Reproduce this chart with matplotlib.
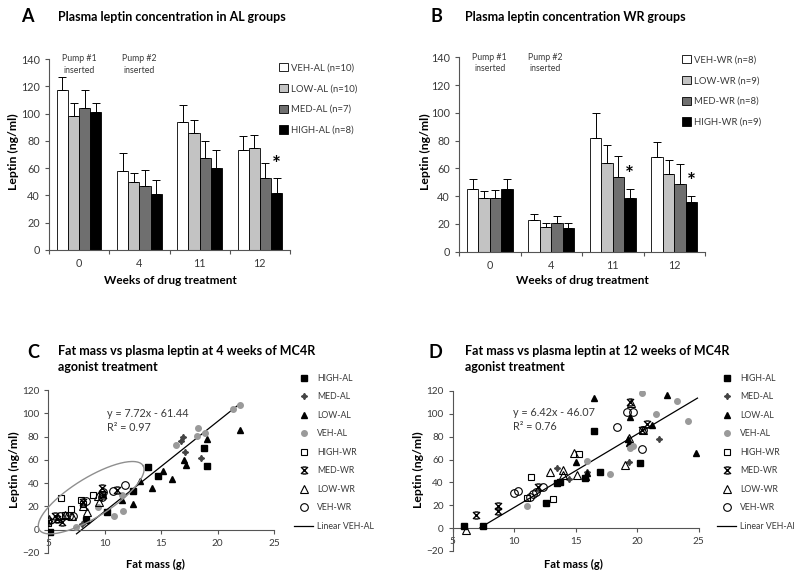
import numpy as np
import matplotlib.pyplot as plt
from matplotlib.patches import Patch
from matplotlib.lines import Line2D
from matplotlib.path import Path

plt.rcParams['font.family'] = ['Lato', 'DejaVu Sans']

# ---- bar data (panels A and B) ----
weeks = ['0', '4', '11', '12']
bar_colors = ['white', '#c3c3c3', '#6f6f6f', 'black']

al_labels = ['VEH-AL (n=10)', 'LOW-AL (n=10)', 'MED-AL (n=7)', 'HIGH-AL (n=8)']
al_mean = [[117, 58, 94, 73.5],
           [98, 50, 85.5, 75],
           [104, 47, 67.5, 52.5],
           [101.5, 41, 60, 42]]
al_err = [[10, 13, 12, 10],
          [10, 6.5, 9.5, 9],
          [13, 12, 12.5, 11],
          [6, 10.5, 13, 10.5]]
al_stars = [(3, 3, 62)]  # (week index, group index, y)

wr_labels = ['VEH-WR (n=8)', 'LOW-WR (n=9)', 'MED-WR (n=8)', 'HIGH-WR (n=9)']
wr_mean = [[45, 22.5, 82, 68],
           [38.5, 18, 64, 56],
           [39, 20.5, 54, 49],
           [45, 17, 38.5, 35.5]]
wr_err = [[7.5, 5, 18, 11],
          [5.5, 2.5, 12.5, 10],
          [5.5, 5, 15, 14],
          [7, 4, 6.5, 4.5]]
wr_stars = [(2, 3, 55), (3, 3, 50)]

# ---- scatter data (panels C and D): fat mass (g), leptin (ng/ml) ----
c_high_al_x = [5.15, 8.3, 10.2, 12.5, 13.85, 14.7, 18.8, 19.1]
c_high_al_y = [-2, 8, 15, 33, 54, 46, 70, 55]
c_med_al_x = [7.95, 16.74, 16.95, 17.07, 18.5]
c_med_al_y = [4.5, 76, 79.5, 66.5, 61.5]
c_low_al_x = [22.03, 19.07, 17.04, 17.16, 15.12, 16.0, 14.15, 13.1, 12.47, 11.52]
c_low_al_y = [85.3, 77.6, 60, 56, 50.6, 43.7, 36, 42, 21.9, 25.9]
c_veh_al_x = [22.03, 21.4, 18.27, 18.2, 18.87, 16.36, 11.5, 11.64, 10.8, 9.42, 7.45]
c_veh_al_y = [107.5, 103.5, 87.7, 80.5, 83.4, 72.4, 30.2, 16.4, 12, 19.3, 2]
c_high_wr_x = [5.0, 6.15, 7.04, 7.87, 8.98, 9.78, 6.5, 8.1]
c_high_wr_y = [6, 27, 18, 25.6, 30.2, 30.5, 13, 22]
c_med_wr_x = [5.59, 6.18, 8.1, 9.72, 11.1, 5.0, 5.74, 9.87]
c_med_wr_y = [12, 6.3, 23.4, 35.9, 34.5, 7.6, 9.3, 30.2]
c_low_wr_x = [5.9, 6.48, 7.07, 8.4, 8.1, 9.43, 9.5, 5.09]
c_low_wr_y = [9.7, 12.5, 12, 15.4, 20.5, 29, 23.9, 9.1]
c_veh_wr_x = [11.79, 10.75, 9.72, 9.87, 8.34, 6.86, 6.04, 7.2]
c_veh_wr_y = [38.1, 33.3, 27.8, 32, 24.7, 11.4, 11.4, 12]

d_high_al_x = [5.92, 7.49, 12.58, 13.5, 13.7, 16.47, 17.0, 20.26, 15.74]
d_high_al_y = [2.3, 2, 22.2, 39.5, 40.5, 85, 48.8, 57.2, 43.5]
d_med_al_x = [13.5, 14.47, 21.75, 19.34, 15.93]
d_med_al_y = [53, 42.6, 77.7, 58, 48.8]
d_low_al_x = [16.47, 22.4, 19.4, 19.26, 19.34, 21.24, 24.8, 14.99, 15.8, 15.88]
d_low_al_y = [113.6, 116.5, 97.5, 77.7, 74.7, 90.2, 66, 58, 45, 47.9]
d_veh_al_x = [20.4, 23.24, 21.56, 24.13, 19.4, 19.67, 17.77, 15.88, 11.06]
d_veh_al_y = [118.5, 111.5, 99.6, 93.7, 69.8, 71.8, 47.3, 59, 19.3]
d_high_wr_x = [11.36, 13.17, 11.06, 15.3]
d_high_wr_y = [45, 25.2, 26, 64.8]
d_med_wr_x = [6.9, 8.7, 8.7, 11.96, 20.8, 19.45, 20.4]
d_med_wr_y = [11.4, 19.3, 15.2, 35.6, 90.8, 110.7, 85.8]
d_low_wr_x = [6.1, 12.9, 13.93, 13.98, 14.85, 15.07, 19.48, 20.48, 18.99, 19.3]
d_low_wr_y = [-1.5, 49.3, 50.8, 46.4, 65.7, 46.4, 109.2, 85.8, 55.2, 78.5]
d_veh_wr_x = [9.98, 10.3, 11.28, 11.55, 11.8, 12.36, 18.32, 19.18, 19.67, 20.35, 20.5]
d_veh_wr_y = [30.4, 32.4, 26.9, 29.8, 31.8, 36.2, 88.2, 101.9, 101.9, 69.2, 85.8]

# linear fits (VEH-AL): slope, intercept, R2, x range of drawn line
c_fit = (7.72, -61.44, 0.97, [7.5, 22.0])
d_fit = (6.42, -46.07, 0.76, [7.2, 24.9])

TXT = '#3a3a3a'
AX = '#555555'

bowtie = Path([(-1, 1), (1, -1), (1, 1), (-1, -1), (-0.6, 1), (0.6, 1), (-0.6, -1), (0.6, -1)],
              [Path.MOVETO, Path.LINETO] * 4)
styles = {
    'HIGH-AL': dict(marker='s', mfc='black', mec='black', ms=3.8),
    'MED-AL': dict(marker=(4, 1, 0), mfc='#444444', mec='#444444', ms=4.5),
    'LOW-AL': dict(marker='^', mfc='black', mec='black', ms=4.2),
    'VEH-AL': dict(marker='o', mfc='#9a9a9a', mec='#9a9a9a', ms=4),
    'HIGH-WR': dict(marker='s', mfc='none', mec='black', ms=5, mew=0.8),
    'MED-WR': dict(marker=bowtie, mfc='none', mec='black', ms=5, mew=1.0),
    'LOW-WR': dict(marker='^', mfc='none', mec='black', ms=5.5, mew=0.8),
    'VEH-WR': dict(marker='o', mfc='none', mec='black', ms=5.5, mew=0.8),
}

fig = plt.figure(figsize=(8, 5.77), dpi=100)
W, H = 800, 577


def fx(px):
    return px / W


def fy(py):
    return 1 - py / H


def style_axes(ax, size):
    for s in ['top', 'right']:
        ax.spines[s].set_visible(False)
    for s in ['left', 'bottom']:
        ax.spines[s].set_color(AX)
        ax.spines[s].set_linewidth(0.8)
    ax.tick_params(colors=AX, labelcolor=TXT, labelsize=size, length=3, width=0.8)


def bar_panel(ax, means, errs, stars, xmax, pump_x):
    w = 0.185
    x = np.arange(len(weeks))
    for i in range(4):
        pos = x + (i - 1.5) * w
        ax.bar(pos, means[i], w, color=bar_colors[i], edgecolor='black', linewidth=0.6, zorder=2)
        ax.errorbar(pos, means[i], yerr=[np.zeros(len(weeks)), errs[i]], fmt='none',
                    ecolor='black', elinewidth=0.7, capsize=2.6, capthick=0.7, zorder=3)
    for wk, g, yv in stars:
        ax.text(wk + (g - 1.5) * w, yv, '*', ha='center', va='center', fontsize=15,
                fontweight='bold', color='black')
    ax.set_xlim(-0.5, xmax)
    ax.set_ylim(0, 140)
    ax.set_yticks(range(0, 141, 20))
    ax.set_xticks(x)
    ax.set_xticklabels(weeks)
    ax.set_xticks(np.arange(-0.5, 3.6, 1), minor=True)
    style_axes(ax, 7.8)
    ax.tick_params(axis='x', which='major', length=0, pad=6)
    ax.tick_params(axis='x', which='minor', length=3, width=0.8, colors=AX)
    ax.text(pump_x[0], 136, 'Pump #1\ninserted', ha='center', va='center', fontsize=6.3,
            color=TXT, linespacing=1.35)
    ax.text(pump_x[1], 136, 'Pump #2\ninserted', ha='center', va='center', fontsize=6.3,
            color=TXT, linespacing=1.35)
    return [Patch(facecolor=c, edgecolor='black', linewidth=0.6) for c in bar_colors]


def scatter_panel(ax, groups, fit, eq_pos):
    for name, xs, ys in groups:
        ax.plot(xs, ys, linestyle='none', zorder=3, **styles[name])
    slope, icpt, r2, xr = fit
    xr = np.array(xr)
    ax.plot(xr, slope * xr + icpt, color='black', linewidth=0.9, zorder=2)
    ax.text(eq_pos[0], eq_pos[1], 'y = %.2fx - %.2f\nR² = %.2f' % (slope, -icpt, r2),
            fontsize=7.8, color=TXT, va='center', ha='left', linespacing=1.3)
    ax.set_xlim(5, 25)
    ax.set_ylim(-20, 120)
    ax.set_xticks(range(5, 26, 5))
    ax.set_yticks(range(-20, 121, 20))
    ax.spines['bottom'].set_position(('data', 0))
    style_axes(ax, 7.2)
    handles = [Line2D([], [], linestyle='none', **styles[n]) for n, _, _ in groups]
    handles.append(Line2D([], [], color='black', linewidth=0.9))
    return handles


bar_leg = dict(loc='upper left', frameon=False, fontsize=6.8, handlelength=1.0, handleheight=1.0,
               handletextpad=0.3, labelspacing=1.2, labelcolor=TXT, borderaxespad=0, borderpad=0)
sc_leg = dict(loc='upper left', frameon=False, fontsize=6.3, handlelength=2.2, handletextpad=0.45,
              labelspacing=1.08, labelcolor=TXT, borderaxespad=0, borderpad=0)

# ---- A ----
axA = fig.add_axes([fx(49), fy(250), fx(241), 191 / H])
hA = bar_panel(axA, al_mean, al_err, al_stars, 3.42, [0, 1])
fig.legend(hA, al_labels, bbox_to_anchor=(fx(279), fy(63)), **bar_leg)

# ---- B ----
axB = fig.add_axes([fx(459), fy(251.7), fx(246), 194.4 / H])
hB = bar_panel(axB, wr_mean, wr_err, wr_stars, 3.5, [0, 0.9])
fig.legend(hB, wr_labels, bbox_to_anchor=(fx(682), fy(55)), **bar_leg)

# ---- C ----
axC = fig.add_axes([fx(48.3), fy(553), fx(225.7), 163 / H])
c_groups = [('HIGH-AL', c_high_al_x, c_high_al_y), ('MED-AL', c_med_al_x, c_med_al_y),
            ('LOW-AL', c_low_al_x, c_low_al_y), ('VEH-AL', c_veh_al_x, c_veh_al_y),
            ('HIGH-WR', c_high_wr_x, c_high_wr_y), ('MED-WR', c_med_wr_x, c_med_wr_y),
            ('LOW-WR', c_low_wr_x, c_low_wr_y), ('VEH-WR', c_veh_wr_x, c_veh_wr_y)]
hC = scatter_panel(axC, c_groups, c_fit, (10.2, 94))
# circled WR cluster
t = np.linspace(0, 2 * np.pi, 200)
ex = 8.8 + 4.6 * np.cos(t) - 0.9 * np.sin(t)
ey = 27.5 + 27.5 * np.cos(t) + 14.5 * np.sin(t)
axC.plot(ex, ey, color='#8f8f8f', linewidth=1.0, clip_on=False, zorder=4)
c_leg = [g[0] for g in c_groups] + ['Linear VEH-AL']
fig.legend(hC, c_leg, bbox_to_anchor=(fx(294), fy(374)), **sc_leg)

# ---- D ----
axD = fig.add_axes([fx(452.7), fy(551), fx(246), 160 / H])
d_groups = [('HIGH-AL', d_high_al_x, d_high_al_y), ('MED-AL', d_med_al_x, d_med_al_y),
            ('LOW-AL', d_low_al_x, d_low_al_y), ('VEH-AL', d_veh_al_x, d_veh_al_y),
            ('HIGH-WR', d_high_wr_x, d_high_wr_y), ('MED-WR', d_med_wr_x, d_med_wr_y),
            ('LOW-WR', d_low_wr_x, d_low_wr_y), ('VEH-WR', d_veh_wr_x, d_veh_wr_y)]
hD = scatter_panel(axD, d_groups, d_fit, (9.9, 95))
d_leg = [g[0] for g in d_groups] + ['Linear VEH-Al']
fig.legend(hD, d_leg, bbox_to_anchor=(fx(717), fy(374)), **sc_leg)

# ---- titles and axis labels ----
for letter, lx, ly in [('A', 21, 17), ('B', 430, 17), ('C', 27, 352), ('D', 428, 352)]:
    fig.text(fx(lx), fy(ly), letter, fontsize=13, fontweight='bold', va='center', ha='left')
fig.text(fx(58), fy(17), 'Plasma leptin concentration in AL groups', fontsize=9, fontweight='bold',
         va='center')
fig.text(fx(465), fy(17), 'Plasma leptin concentration WR groups', fontsize=9, fontweight='bold',
         va='center')
fig.text(fx(58), fy(359), 'Fat mass vs plasma leptin at 4 weeks of MC4R\nagonist treatment',
         fontsize=9, fontweight='bold', va='center', linespacing=1.35)
fig.text(fx(465), fy(359), 'Fat mass vs plasma leptin at 12 weeks of MC4R\nagonist treatment',
         fontsize=9, fontweight='bold', va='center', linespacing=1.35)

for x0, y0 in [(13, 152), (425, 152), (14, 470), (418, 470)]:
    fig.text(fx(x0), fy(y0), 'Leptin (ng/ml)', rotation=90, fontsize=8.8, fontweight='bold',
             va='center', ha='center')
for x0 in [170, 582]:
    fig.text(fx(x0), fy(281), 'Weeks of drug treatment', fontsize=8.5, fontweight='bold',
             va='center', ha='center')
for x0 in [155, 573]:
    fig.text(fx(x0), fy(564), 'Fat mass (g)', fontsize=8, fontweight='bold', va='center',
             ha='center')

fig.savefig('out.png', dpi=100)
